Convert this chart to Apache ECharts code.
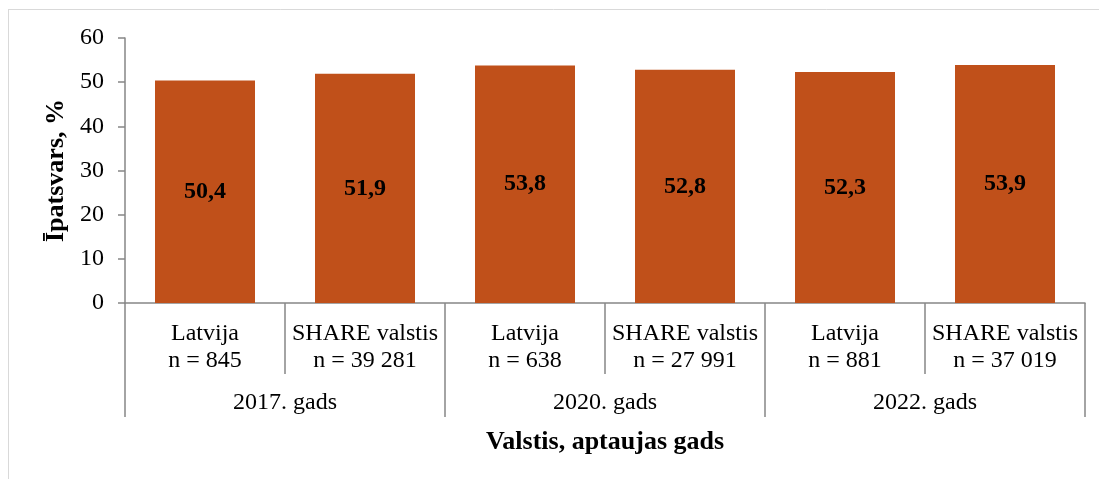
<!DOCTYPE html>
<html>
<head>
<meta charset="utf-8">
<script src="https://cdn.jsdelivr.net/npm/echarts@6/dist/echarts.min.js"></script>
<style>
html,body{margin:0;padding:0;background:#fff;}
#chart{width:1099px;height:479px;}
</style>
</head>
<body>
<div id="chart"></div>
<script>
var categories = ['Latvija\nn = 845', 'SHARE valstis\nn = 39 281', 'Latvija\nn = 638', 'SHARE valstis\nn = 27 991', 'Latvija\nn = 881', 'SHARE valstis\nn = 37 019'];
var years = ['2017. gads', '2020. gads', '2022. gads'];
var values = [50.4, 51.9, 53.8, 52.8, 52.3, 53.9];
var yTicks = [0, 10, 20, 30, 40, 50, 60];

var FONT = '"Liberation Serif", "Times New Roman", serif';
var axisGray = '#868686';

var chart = echarts.init(document.getElementById('chart'), null, {renderer: 'canvas'});
chart.setOption({
  animation: false,
  backgroundColor: '#fff',
  graphic: [{
    type: 'line',
    shape: {x1: 8, y1: 9.5, x2: 1099, y2: 9.5},
    style: {stroke: '#d9d9d9', lineWidth: 1},
    silent: true
  }, {
    type: 'line',
    shape: {x1: 8.5, y1: 9, x2: 8.5, y2: 479},
    style: {stroke: '#d9d9d9', lineWidth: 1},
    silent: true
  }],
  grid: {left: 125, right: 14, top: 38, bottom: 176, containLabel: false},
  xAxis: [{
    type: 'category',
    data: categories,
    position: 'bottom',
    axisLine: {show: true, lineStyle: {color: axisGray, width: 1.5}},
    axisTick: {show: true, length: 71, lineStyle: {color: axisGray, width: 1.5}},
    axisLabel: {color: '#000', fontFamily: FONT, fontSize: 24, lineHeight: 27, margin: 17, interval: 0}
  }, {
    type: 'category',
    data: years,
    position: 'bottom',
    axisLine: {show: false},
    axisTick: {show: true, length: 114, lineStyle: {color: axisGray, width: 1.5}},
    axisLabel: {color: '#000', fontFamily: FONT, fontSize: 24, margin: 88, interval: 0},
    name: 'Valstis, aptaujas gads',
    nameLocation: 'middle',
    nameGap: 126,
    nameTextStyle: {color: '#000', fontFamily: FONT, fontSize: 26, fontWeight: 'bold'}
  }],
  yAxis: {
    type: 'value',
    min: 0, max: 60, interval: 10,
    axisLine: {show: true, lineStyle: {color: axisGray, width: 1.5}},
    axisTick: {show: true, length: 7, lineStyle: {color: axisGray, width: 1.5}},
    splitLine: {show: false},
    axisLabel: {color: '#000', fontFamily: FONT, fontSize: 24, margin: 21,
      formatter: function (v) { return yTicks.indexOf(v) >= 0 ? String(v) : ''; }},
    name: 'Īpatsvars, %',
    nameLocation: 'middle',
    nameGap: 50,
    nameTextStyle: {color: '#000', fontFamily: FONT, fontSize: 26, fontWeight: 'bold'}
  },
  series: [{
    type: 'bar',
    data: values,
    xAxisIndex: 0,
    barWidth: 100,
    itemStyle: {color: '#C0501A'},
    label: {
      show: true, position: 'inside', color: '#000',
      fontFamily: FONT, fontSize: 24, fontWeight: 'bold',
      formatter: function (p) { return String(p.value).replace('.', ','); }
    }
  }]
});
</script>
</body>
</html>
